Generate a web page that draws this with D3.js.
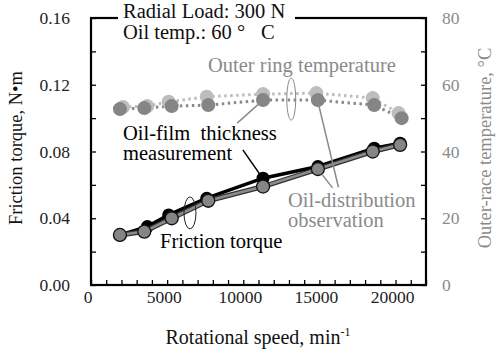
<!DOCTYPE html>
<html><head><meta charset="utf-8">
<script src="https://cdn.jsdelivr.net/npm/d3@7"></script>
<style>body{margin:0;background:#fff}svg{display:block}</style>
</head><body><svg id="c" width="498" height="351" font-family="Liberation Serif, Tinos, Times New Roman, Times, serif"></svg>
<script>
// Friction torque series
const speedFilm = [1900, 3700, 5100, 7600, 11300, 14900, 18600, 20300];
const torqueFilm = [0.030, 0.035, 0.042, 0.052, 0.064, 0.071, 0.082, 0.085];
const speedDist = [1900, 3500, 5300, 7700, 11300, 14900, 18500, 20300];
const torqueDist = [0.030, 0.032, 0.040, 0.0505, 0.059, 0.0695, 0.080, 0.084];
// Outer ring temperature series
const tempSpeedLight = [2100, 3700, 5100, 7600, 11300, 14800, 18500, 20200];
const tempLight = [53.3, 53.6, 54.9, 56.4, 57.2, 57.5, 56.0, 51.5];
const tempSpeedDark = [1900, 3500, 5300, 7700, 11300, 14900, 18600, 20400];
const tempDark = [52.7, 53.0, 53.6, 53.9, 55.4, 55.4, 53.9, 50.0];
// ticks
const xTicks = [0, 5000, 10000, 15000, 20000];
const yTicks = [0.00, 0.04, 0.08, 0.12, 0.16];
const y2Ticks = [0, 20, 40, 60, 80];

const svg = d3.select("#c");
const x = d3.scaleLinear().domain([0, 22000]).range([91, 426]);
const y = d3.scaleLinear().domain([0, 0.16]).range([285, 18]);
const y2 = d3.scaleLinear().domain([0, 80]).range([285, 18]);
const grayTxt = "#8a8a8a";
const annSize = 20.5;

// axes (inward ticks)
const gx = svg.append("g").attr("transform", `translate(0,${y(0)})`)
  .call(d3.axisBottom(x).tickValues(d3.range(0, 22001, 1000)).tickSize(-5).tickFormat(""));
const gy = svg.append("g").attr("transform", `translate(${x(0)},0)`)
  .call(d3.axisLeft(y).tickValues(d3.range(0, 0.1601, 0.02)).tickSize(-5).tickFormat(""));
const gy2 = svg.append("g").attr("transform", `translate(${x(22000)},0)`)
  .call(d3.axisRight(y2).tickValues(d3.range(0, 81, 10)).tickSize(-5).tickFormat(""));
[gx, gy, gy2].forEach(g => {
  g.selectAll(".domain").remove();
  g.selectAll(".tick line").attr("stroke", "#000").attr("stroke-width", 1.3);
});
// frame
svg.append("rect").attr("x", x(0)).attr("y", y(0.16)).attr("width", x(22000) - x(0))
  .attr("height", y(0) - y(0.16)).attr("fill", "none").attr("stroke", "#000").attr("stroke-width", 2.2);

// tick labels
svg.append("g").selectAll("text").data(xTicks).join("text")
  .attr("x", d => x(d) - 3).attr("y", 303).attr("text-anchor", "middle")
  .attr("font-size", 17.5).attr("fill", "#222").text(d => d);
svg.append("g").selectAll("text").data(yTicks).join("text")
  .attr("x", 70).attr("y", d => y(d) + 6).attr("text-anchor", "end")
  .attr("font-size", 17.5).attr("fill", "#222").text(d => d.toFixed(2));
svg.append("g").selectAll("text").data(y2Ticks).join("text")
  .attr("x", 442).attr("y", d => y2(d) + 6).attr("text-anchor", "start")
  .attr("font-size", 17.5).attr("fill", grayTxt).text(d => d);

// axis titles
svg.append("text").attr("transform", `translate(22,148) rotate(-90)`).attr("text-anchor", "middle")
  .attr("font-size", 18.5).attr("fill", "#111").text("Friction torque, N\u2022m");
svg.append("text").attr("transform", `translate(491,148) rotate(-90)`).attr("text-anchor", "middle")
  .attr("font-size", 18.5).attr("fill", grayTxt).text("Outer-race temperature, \u00B0C");
const xl = svg.append("text").attr("x", 258).attr("y", 344).attr("text-anchor", "middle")
  .attr("font-size", 20).attr("fill", "#111");
xl.append("tspan").text("Rotational speed, min");
xl.append("tspan").attr("dy", -8).attr("font-size", 12).text("-1");

// top-left label box (interrupts top frame)
svg.append("rect").attr("x", 118).attr("y", 6).attr("width", 177).attr("height", 36).attr("fill", "#fff");
svg.append("text").attr("x", 123).attr("y", 18).attr("font-size", annSize).attr("fill", "#111").text("Radial Load: 300 N");
const t2 = svg.append("text").attr("x", 123).attr("y", 39).attr("font-size", annSize).attr("fill", "#111");
t2.append("tspan").text("Oil temp.: 60 \u00B0");
t2.append("tspan").attr("x", 261).text("C");

// temperature dotted lines
const lineT = (xs, ys) => d3.line().x((d, i) => x(xs[i])).y((d, i) => y2(ys[i]))(ys);
svg.append("path").attr("d", lineT(tempSpeedLight, tempLight)).attr("fill", "none")
  .attr("stroke", "#bdbdbd").attr("stroke-width", 3).attr("stroke-dasharray", "2.5,3.5");
svg.append("path").attr("d", lineT(tempSpeedDark, tempDark)).attr("fill", "none")
  .attr("stroke", "#8a8a8a").attr("stroke-width", 3).attr("stroke-dasharray", "2.5,3.5");
svg.append("g").selectAll("circle").data(tempLight).join("circle")
  .attr("cx", (d, i) => x(tempSpeedLight[i])).attr("cy", d => y2(d)).attr("r", 7).attr("fill", "#bdbdbd");
svg.append("g").selectAll("circle").data(tempDark).join("circle")
  .attr("cx", (d, i) => x(tempSpeedDark[i])).attr("cy", d => y2(d)).attr("r", 7).attr("fill", "#858585");

// friction torque lines
const lineY = (xs, ys) => d3.line().x((d, i) => x(xs[i])).y((d, i) => y(ys[i]))(ys);
svg.append("path").attr("d", lineY(speedFilm, torqueFilm)).attr("fill", "none")
  .attr("stroke", "#000").attr("stroke-width", 3.5);
svg.append("g").selectAll("circle").data(torqueFilm).join("circle")
  .attr("cx", (d, i) => x(speedFilm[i])).attr("cy", d => y(d)).attr("r", 6.5).attr("fill", "#000");
svg.append("path").attr("d", lineY(speedDist, torqueDist)).attr("fill", "none")
  .attr("stroke", "#333").attr("stroke-width", 5);
svg.append("path").attr("d", lineY(speedDist, torqueDist)).attr("fill", "none")
  .attr("stroke", "#8c8c8c").attr("stroke-width", 2.6);
svg.append("g").selectAll("circle").data(torqueDist).join("circle")
  .attr("cx", (d, i) => x(speedDist[i])).attr("cy", d => y(d)).attr("r", 6.5)
  .attr("fill", "#858585").attr("stroke", "#111").attr("stroke-width", 1.3);

// annotations
svg.append("ellipse").attr("cx", x(6500)).attr("cy", y(0.0432)).attr("rx", 6).attr("ry", 16)
  .attr("fill", "none").attr("stroke", "#222").attr("stroke-width", 1);
svg.append("ellipse").attr("cx", x(13150)).attr("cy", y2(55.7)).attr("rx", 4.5).attr("ry", 21)
  .attr("fill", "none").attr("stroke", "#8a8a8a").attr("stroke-width", 1);
const leader = (x1, y1, x2, y2v, col) => svg.append("line").attr("x1", x1).attr("y1", y1)
  .attr("x2", x2).attr("y2", y2v).attr("stroke", col).attr("stroke-width", 1.5);
leader(x(9970), y(0.081), x(11300), y(0.0636), "#000");
leader(x(9600), y2(48.5), x(11300), y2(55.4), "#8a8a8a");
leader(x(14800), y2(56.9), x(16250), y2(29.3), "#8a8a8a");
leader(x(15200), y(0.066), x(15860), y(0.0582), "#8a8a8a");

svg.append("text").attr("x", 208).attr("y", 72).attr("font-size", annSize).attr("fill", grayTxt).text("Outer ring temperature");
svg.append("text").attr("x", 123).attr("y", 140).attr("font-size", annSize).attr("fill", "#000").style("white-space", "pre").text("Oil-film  thickness");
svg.append("text").attr("x", 123).attr("y", 160).attr("font-size", annSize).attr("fill", "#000").text("measurement");
svg.append("text").attr("x", 288).attr("y", 207).attr("font-size", annSize).attr("fill", grayTxt).text("Oil-distribution");
svg.append("text").attr("x", 288).attr("y", 227).attr("font-size", annSize).attr("fill", grayTxt).text("observation");
svg.append("text").attr("x", 160).attr("y", 248).attr("font-size", annSize).attr("fill", "#000").text("Friction torque");
</script></body></html>
